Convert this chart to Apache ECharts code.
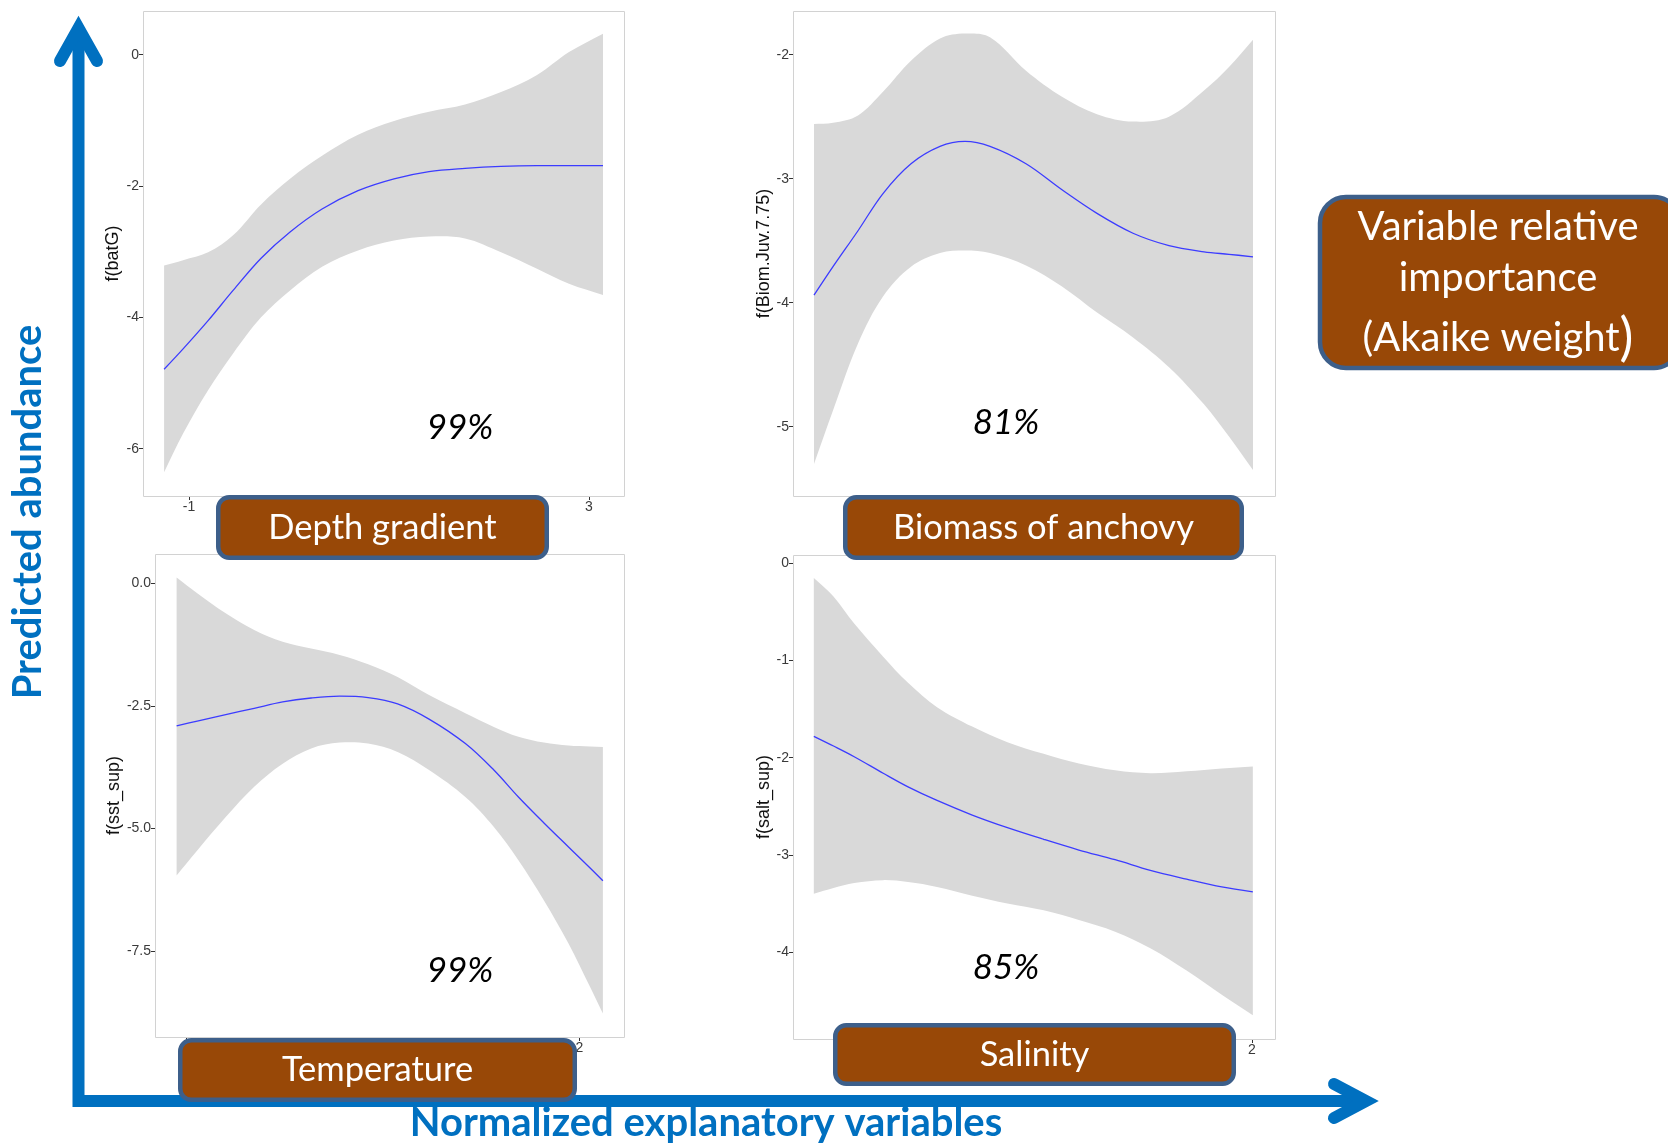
<!DOCTYPE html>
<html>
<head>
<meta charset="utf-8">
<script src="https://cdn.jsdelivr.net/npm/echarts@6/dist/echarts.min.js"></script>
<style>
  html, body { margin: 0; padding: 0; background: #ffffff; }
  #chart { width: 1668px; height: 1143px; }
</style>
</head>
<body>
<div id="chart"></div>
<script>
// ---- Smooth terms of the abundance model (fit and confidence band) ----

// Depth gradient: f(batG)
const depthX     = [-1.25, -1.06, -0.81, -0.56, -0.28, 0.01, 0.33, 0.69, 1.05, 1.40, 1.76, 2.12, 2.48, 2.80, 3.14];
const depthFit   = [-4.79, -4.48, -4.05, -3.59, -3.10, -2.70, -2.35, -2.07, -1.89, -1.78, -1.73, -1.70, -1.69, -1.69, -1.69];
const depthUpper = [-3.21, -3.13, -3.01, -2.75, -2.28, -1.89, -1.54, -1.22, -1.01, -0.87, -0.76, -0.57, -0.31, 0.04, 0.32];
const depthLower = [-6.36, -5.77, -5.11, -4.55, -4.00, -3.59, -3.23, -2.98, -2.83, -2.77, -2.80, -3.01, -3.26, -3.49, -3.66];

// Biomass of anchovy: f(Biom.Juv.7.75)
const biomX     = [-1.25, -1.06, -0.81, -0.56, -0.28, 0.01, 0.26, 0.51, 0.87, 1.23, 1.58, 1.94, 2.30, 2.65, 2.90, 3.14];
const biomFit   = [-3.94, -3.71, -3.42, -3.12, -2.88, -2.74, -2.70, -2.74, -2.88, -3.09, -3.28, -3.44, -3.54, -3.59, -3.61, -3.63];
const biomUpper = [-2.56, -2.55, -2.49, -2.30, -2.05, -1.87, -1.83, -1.86, -2.13, -2.34, -2.48, -2.54, -2.50, -2.29, -2.10, -1.88];
const biomLower = [-5.30, -4.87, -4.33, -3.95, -3.71, -3.60, -3.58, -3.60, -3.70, -3.87, -4.08, -4.28, -4.52, -4.82, -5.08, -5.35];

// Temperature: f(sst_sup)
const sstX     = [-2.10, -1.89, -1.60, -1.31, -1.02, -0.73, -0.44, -0.15, 0.15, 0.47, 0.84, 1.13, 1.38, 1.64, 1.89, 2.11, 2.24];
const sstFit   = [-2.91, -2.81, -2.68, -2.55, -2.42, -2.34, -2.30, -2.33, -2.46, -2.77, -3.27, -3.81, -4.36, -4.89, -5.38, -5.81, -6.07];
const sstUpper = [0.12, -0.20, -0.61, -0.95, -1.19, -1.33, -1.46, -1.65, -1.91, -2.28, -2.65, -2.93, -3.13, -3.25, -3.31, -3.33, -3.34];
const sstLower = [-5.96, -5.45, -4.77, -4.15, -3.68, -3.37, -3.25, -3.27, -3.44, -3.81, -4.36, -4.97, -5.65, -6.47, -7.35, -8.24, -8.78];

// Salinity: f(salt_sup)
const saltX     = [-2.23, -2.04, -1.84, -1.56, -1.32, -1.04, -0.70, -0.36, -0.01, 0.33, 0.68, 1.02, 1.37, 1.71, 2.01];
const saltFit   = [-1.78, -1.88, -1.99, -2.16, -2.30, -2.44, -2.59, -2.72, -2.84, -2.95, -3.05, -3.16, -3.25, -3.33, -3.38];
const saltUpper = [-0.15, -0.34, -0.62, -0.96, -1.23, -1.48, -1.68, -1.84, -1.96, -2.06, -2.13, -2.16, -2.14, -2.11, -2.09];
const saltLower = [-3.40, -3.34, -3.29, -3.26, -3.28, -3.33, -3.42, -3.50, -3.57, -3.67, -3.79, -3.96, -4.19, -4.44, -4.65];

// Tick values
const depthYTicks = [0, -2, -4, -6];
const depthXTicks = [-1, 0, 1, 2, 3];
const biomYTicks  = [-2, -3, -4, -5];
const sstYTicks   = [0, -2.5, -5, -7.5];
const sstXTicks   = [-2, -1, 0, 1, 2];
const saltYTicks  = [0, -1, -2, -3, -4];
const saltXTicks  = [-1, 0, 1, 2];

// Labels
const termNames     = ['f(batG)', 'f(Biom.Juv.7.75)', 'f(sst_sup)', 'f(salt_sup)'];
const variableNames = ['Depth gradient', 'Biomass of anchovy', 'Temperature', 'Salinity'];
const akaikeWeights = ['99%', '81%', '99%', '85%'];

// ---- Layout ----
const panels = [
  { grid: { left: 143, top: 11, width: 481, height: 485 }, xMin: -1.461, xMax: 3.35, yMin: -6.72, yMax: 0.665,
    x: depthX, fit: depthFit, up: depthUpper, lo: depthLower, yTicks: depthYTicks, xTicks: depthXTicks, yDigits: 0, nameGap: 21 },
  { grid: { left: 793, top: 11, width: 482, height: 485 }, xMin: -1.46, xMax: 3.36, yMin: -5.559, yMax: -1.648,
    x: biomX, fit: biomFit, up: biomUpper, lo: biomLower, yTicks: biomYTicks, xTicks: null, yDigits: 0, nameGap: 19 },
  { grid: { left: 155, top: 554, width: 469, height: 483 }, xMin: -2.32, xMax: 2.455, yMin: -9.258, yMax: 0.599,
    x: sstX, fit: sstFit, up: sstUpper, lo: sstLower, yTicks: sstYTicks, xTicks: sstXTicks, yDigits: 1, nameGap: 32 },
  { grid: { left: 793, top: 555, width: 482, height: 484 }, xMin: -2.431, xMax: 2.224, yMin: -4.895, yMax: 0.086,
    x: saltX, fit: saltFit, up: saltUpper, lo: saltLower, yTicks: saltYTicks, xTicks: saltXTicks, yDigits: 0, nameGap: 19 }
];

const tickFont = { fontFamily: 'Liberation Sans, Arial, sans-serif', fontSize: 14, color: '#3a3a3a' };
const SMOOTH = 0.35;

// Smooth bezier segments through screen points (same control-point rule as a smoothed line series)
function smoothSegments(pts, k) {
  let d = '';
  const dist = (a, b) => Math.hypot(a[0] - b[0], a[1] - b[1]);
  for (let i = 0; i < pts.length - 1; i++) {
    const p0 = pts[i - 1] || pts[i], p1 = pts[i], p2 = pts[i + 1], p3 = pts[i + 2] || pts[i + 1];
    const r1 = dist(p1, p2) / ((dist(p0, p1) + dist(p1, p2)) || 1);
    const r2 = dist(p1, p2) / ((dist(p1, p2) + dist(p2, p3)) || 1);
    const c1 = [p1[0] + (p2[0] - p0[0]) * k * r1, p1[1] + (p2[1] - p0[1]) * k * r1];
    const c2 = [p2[0] - (p3[0] - p1[0]) * k * r2, p2[1] - (p3[1] - p1[1]) * k * r2];
    d += ' C' + c1[0] + ',' + c1[1] + ' ' + c2[0] + ',' + c2[1] + ' ' + p2[0] + ',' + p2[1];
  }
  return d;
}

const grids = [], xAxes = [], yAxes = [], series = [], frames = [];

panels.forEach((p, i) => {
  grids.push(Object.assign({ show: false, containLabel: false }, p.grid));

  frames.push({ type: 'rect', z: 50, silent: true,
    shape: { x: p.grid.left + 0.5, y: p.grid.top + 0.5, width: p.grid.width, height: p.grid.height },
    style: { fill: null, stroke: '#d2d2d2', lineWidth: 1 } });

  xAxes.push({
    type: 'value', gridIndex: i, min: p.xMin, max: p.xMax, z: 10,
    axisLine: { show: false, onZero: false },
    splitLine: { show: false },
    axisTick: p.xTicks ? { show: true, length: 4, lineStyle: { color: '#333' }, customValues: p.xTicks } : { show: false },
    axisLabel: p.xTicks ? Object.assign({ show: true, margin: 4, customValues: p.xTicks }, tickFont) : { show: false }
  });

  yAxes.push({
    type: 'value', gridIndex: i, min: p.yMin, max: p.yMax, z: 10,
    name: termNames[i], nameLocation: 'middle', nameGap: p.nameGap, nameRotate: 90,
    nameTextStyle: { fontFamily: 'Liberation Sans, Arial, sans-serif', fontSize: 18, color: '#111' },
    axisLine: { show: false, onZero: false },
    splitLine: { show: false },
    axisTick: { show: true, length: 4, lineStyle: { color: '#333' }, customValues: p.yTicks },
    axisLabel: Object.assign({
      show: true, margin: 4, customValues: p.yTicks,
      formatter: v => Number(v).toFixed(p.yDigits)
    }, tickFont)
  });

  // confidence band between the lower and upper bounds
  series.push({
    type: 'custom', xAxisIndex: i, yAxisIndex: i, silent: true, z: 1,
    data: p.x.map((x, k) => [x, p.lo[k], p.up[k]]),
    encode: { x: 0, y: [1, 2] },
    renderItem: (params, api) => {
      if (params.dataIndex !== 0) return null;
      const upPts = p.x.map((x, k) => api.coord([x, p.up[k]]));
      const loPts = p.x.map((x, k) => api.coord([x, p.lo[k]])).reverse();
      const d = 'M' + upPts[0][0] + ',' + upPts[0][1] + smoothSegments(upPts, SMOOTH) +
                ' L' + loPts[0][0] + ',' + loPts[0][1] + smoothSegments(loPts, SMOOTH) + ' Z';
      return { type: 'path', shape: { pathData: d }, style: { fill: '#d9d9d9', stroke: null } };
    }
  });
  // fitted smooth term
  series.push({
    type: 'line', xAxisIndex: i, yAxisIndex: i,
    data: p.x.map((x, k) => [x, p.fit[k]]),
    smooth: SMOOTH, symbol: 'none', silent: true, lineStyle: { color: '#3c3cff', width: 1.3 }, z: 3
  });
});

// ---- Annotations: variable boxes, weights, summary box and arrows ----
const BROWN = '#984807', EDGE = '#3d5f8a', BLUE = '#0070c0';
const boxFont = 'Lato, "Open Sans", sans-serif';

function labelBox(x0, y0, x1, y1, text, size) {
  const lw = 4.5;
  return [
    { type: 'rect', z: 100,
      shape: { x: x0 + lw / 2, y: y0 + lw / 2, width: x1 - x0 - lw, height: y1 - y0 - lw, r: 11 },
      style: { fill: BROWN, stroke: EDGE, lineWidth: lw } },
    { type: 'text', z: 101, x: (x0 + x1) / 2, y: (y0 + y1) / 2,
      style: { text: text, fill: '#ffffff', fontFamily: boxFont, fontSize: size, align: 'center', verticalAlign: 'middle' } }
  ];
}

const weightPos = [[460, 428], [1006, 423], [460, 971], [1006, 968]];

const graphics = [
  ...frames,
  ...labelBox(216, 495, 549, 560, variableNames[0], 34.5),
  ...labelBox(843, 495, 1244, 560, variableNames[1], 34.5),
  ...labelBox(178, 1038, 577, 1102, variableNames[2], 34.5),
  ...labelBox(833, 1023, 1236, 1086, variableNames[3], 34.5),
  ...akaikeWeights.map((w, k) => ({
    type: 'text', z: 101, x: weightPos[k][0], y: weightPos[k][1],
    style: { text: w, fill: '#000000', fontFamily: boxFont, fontStyle: 'italic', fontSize: 35, align: 'center', verticalAlign: 'middle' }
  })),
  // summary box at the right edge
  { type: 'rect', z: 100, shape: { x: 1320, y: 197, width: 360, height: 171, r: 26 },
    style: { fill: BROWN, stroke: EDGE, lineWidth: 4.5 } },
  { type: 'text', z: 101, x: 1498, y: 227,
    style: { text: 'Variable relative', fill: '#fff', fontFamily: boxFont, fontSize: 40, align: 'center', verticalAlign: 'middle' } },
  { type: 'text', z: 101, x: 1498, y: 278,
    style: { text: 'importance', fill: '#fff', fontFamily: boxFont, fontSize: 40, align: 'center', verticalAlign: 'middle' } },
  { type: 'text', z: 101, x: 1498, y: 338,
    style: { text: '(Akaike weight{p|)}', fill: '#fff', fontFamily: boxFont, fontSize: 40, align: 'center', verticalAlign: 'middle',
             rich: { p: { fontSize: 52, fill: '#fff', fontFamily: boxFont } } } },
  // axes arrows
  { type: 'polyline', z: 90, shape: { points: [[78.5, 30], [78.5, 1101], [1364, 1101]] },
    style: { stroke: BLUE, lineWidth: 12, lineJoin: 'miter', lineCap: 'butt', fill: null } },
  { type: 'polyline', z: 90, shape: { points: [[60, 61], [78.5, 28], [97, 61]] },
    style: { stroke: BLUE, lineWidth: 12, lineJoin: 'miter', lineCap: 'round', fill: null } },
  { type: 'polyline', z: 90, shape: { points: [[1334, 1084], [1366, 1101], [1334, 1118]] },
    style: { stroke: BLUE, lineWidth: 12, lineJoin: 'miter', lineCap: 'round', fill: null } },
  { type: 'text', z: 95, x: 28, y: 512, rotation: Math.PI / 2,
    style: { text: 'Predicted abundance', fill: BLUE, fontFamily: boxFont, fontWeight: 'bold', fontSize: 40, align: 'center', verticalAlign: 'middle' } },
  { type: 'text', z: 95, x: 706, y: 1123,
    style: { text: 'Normalized explanatory variables', fill: BLUE, fontFamily: boxFont, fontWeight: 'bold', fontSize: 40, align: 'center', verticalAlign: 'middle' } }
];

const chart = echarts.init(document.getElementById('chart'), null, { renderer: 'canvas' });
chart.setOption({
  backgroundColor: '#ffffff',
  animation: false,
  grid: grids,
  xAxis: xAxes,
  yAxis: yAxes,
  series: series,
  graphic: { elements: graphics }
});
</script>
</body>
</html>
